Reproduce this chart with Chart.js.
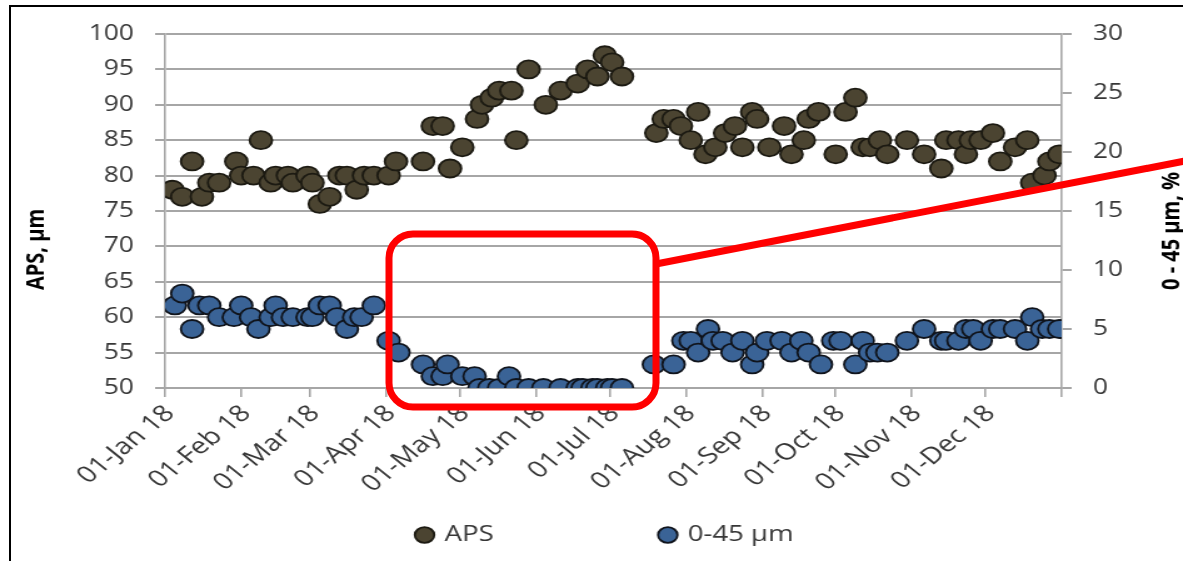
<!DOCTYPE html>
<html><head><meta charset="utf-8">
<script src="https://cdn.jsdelivr.net/npm/chart.js@4.4.1/dist/chart.umd.min.js"></script>
<style>
html,body{margin:0;padding:0;background:#fff;overflow:hidden;width:1183px;height:561px;}
#frame{position:absolute;left:9px;top:5px;width:1200px;height:600px;border-left:2px solid #000;border-top:2px solid #000;}
#wrap{position:absolute;left:0;top:0;width:946px;height:561px;transform:scaleX(1.2505);transform-origin:0 0;}
#ann{position:absolute;left:0;top:0;pointer-events:none;}
</style></head>
<body>
<div id="frame"></div>
<div id="wrap"><canvas id="c"></canvas></div>
<svg id="ann" width="1183" height="561">
  <rect x="389" y="234" width="267" height="173" rx="24" ry="24" fill="none" stroke="#ff0000" stroke-width="7"/>
  <line x1="656" y1="264" x2="1190" y2="160" stroke="#ff0000" stroke-width="7"/>
</svg>
<script>
// ---- data ----
const apsDates = ['2018-01-04','2018-01-08','2018-01-12','2018-01-16','2018-01-19','2018-01-23','2018-01-30',
 '2018-02-01','2018-02-06','2018-02-09','2018-02-13','2018-02-15','2018-02-20','2018-02-22','2018-02-28',
 '2018-03-02','2018-03-05','2018-03-09','2018-03-13','2018-03-16','2018-03-20','2018-03-23','2018-03-27',
 '2018-04-02','2018-04-05','2018-04-16','2018-04-20','2018-04-24','2018-04-27',
 '2018-05-02','2018-05-08','2018-05-10','2018-05-14','2018-05-17','2018-05-22','2018-05-24','2018-05-29',
 '2018-06-05','2018-06-11','2018-06-18','2018-06-22','2018-06-26','2018-06-29',
 '2018-07-02','2018-07-06','2018-07-20','2018-07-23','2018-07-27','2018-07-30',
 '2018-08-03','2018-08-06','2018-08-09','2018-08-13','2018-08-17','2018-08-21','2018-08-24','2018-08-28','2018-08-30',
 '2018-09-04','2018-09-10','2018-09-13','2018-09-18','2018-09-20','2018-09-24',
 '2018-10-01','2018-10-05','2018-10-09','2018-10-12','2018-10-15','2018-10-19','2018-10-22','2018-10-30',
 '2018-11-06','2018-11-13','2018-11-15','2018-11-20','2018-11-23','2018-11-25','2018-11-29',
 '2018-12-04','2018-12-07','2018-12-13','2018-12-18','2018-12-20','2018-12-25','2018-12-27','2018-12-31'];
const apsValues = [78,77,82,77,79,79,82,
 80,80,85,79,80,80,79,80,
 79,76,77,80,80,78,80,80,
 80,82,82,87,87,81,
 84,88,90,91,92,92,85,95,
 90,92,93,95,94,97,
 96,94,86,88,88,87,
 85,89,83,84,86,87,84,89,88,
 84,87,83,85,88,89,
 83,89,91,84,84,85,83,85,
 83,81,85,85,83,85,85,
 86,82,84,85,79,80,82,83];

const fineDates = ['2018-01-05','2018-01-08','2018-01-12','2018-01-15','2018-01-19','2018-01-23','2018-01-29',
 '2018-02-01','2018-02-05','2018-02-08','2018-02-13','2018-02-15','2018-02-18','2018-02-22','2018-02-28',
 '2018-03-02','2018-03-05','2018-03-09','2018-03-12','2018-03-16','2018-03-19','2018-03-22','2018-03-27',
 '2018-04-02','2018-04-06','2018-04-16','2018-04-20','2018-04-24','2018-04-26',
 '2018-05-02','2018-05-07','2018-05-09','2018-05-13','2018-05-17','2018-05-21','2018-05-24','2018-05-29',
 '2018-06-04','2018-06-11','2018-06-18','2018-06-20','2018-06-24','2018-06-26','2018-06-30',
 '2018-07-02','2018-07-06','2018-07-19','2018-07-27','2018-07-31',
 '2018-08-03','2018-08-06','2018-08-10','2018-08-12','2018-08-16','2018-08-20','2018-08-24','2018-08-28','2018-08-30',
 '2018-09-03','2018-09-09','2018-09-13','2018-09-17','2018-09-20','2018-09-25','2018-09-30',
 '2018-10-03','2018-10-09','2018-10-12','2018-10-15','2018-10-18','2018-10-22','2018-10-30',
 '2018-11-06','2018-11-13','2018-11-15','2018-11-20','2018-11-23','2018-11-26','2018-11-29',
 '2018-12-04','2018-12-07','2018-12-13','2018-12-18','2018-12-20','2018-12-24','2018-12-27','2018-12-31'];
const fineValues = [7,8,5,7,7,6,6,
 7,6,5,6,7,6,6,6,
 6,7,7,6,5,6,6,7,
 4,3,2,1,1,2,
 1,1,0,0,0,1,0,0,
 0,0,0,0,0,0,0,
 0,0,2,2,4,
 4,3,5,4,4,3,4,2,3,
 4,4,3,4,3,2,4,
 4,2,4,3,3,3,4,
 5,4,4,4,5,5,4,
 5,5,5,4,6,5,5,5];

const tickDates = ['2018-01-01','2018-02-01','2018-03-01','2018-04-01','2018-05-01','2018-06-01','2018-07-01',
 '2018-08-01','2018-09-01','2018-10-01','2018-11-01','2018-12-01','2019-01-01'];
const tickLabels = ['01-Jan 18','01-Feb 18','01-Mar 18','01-Apr 18','01-May 18','01-Jun 18','01-Jul 18',
 '01-Aug 18','01-Sep 18','01-Oct 18','01-Nov 18','01-Dec 18',''];
const seriesNames = ['APS','0-45 µm'];
const axisTitleLeft = 'APS, µm';
const axisTitleRight = '0 - 45 µm, %';

// ---- helpers ----
const day0 = Date.UTC(2018,0,1);
const toDay = s => (Date.parse(s + 'T00:00:00Z') - day0) / 86400000;
const tickDays = tickDates.map(toDay);

const FONT = '"Open Sans", "DejaVu Sans", sans-serif';
const GRID = '#a6a6a6';
const TXT = '#363636';
const LEGEND_GAP = '\u00a0'.repeat(20);

const axisTitles = {
  id: 'axisTitles',
  afterDraw(chart) {
    const {ctx, chartArea, scales} = chart;
    ctx.save();
    ctx.font = 'bold 20px ' + FONT;
    ctx.fillStyle = '#000';
    ctx.textBaseline = 'middle';
    ctx.textAlign = 'left';
    const yStart = chartArea.bottom - 98;
    [[axisTitleLeft, scales.y.left + 6], [axisTitleRight, scales.y1.right - 9]].forEach(([t, x]) => {
      ctx.save();
      ctx.translate(x, yStart);
      ctx.rotate(-Math.PI / 2);
      ctx.fillText(t, 0, 0);
      ctx.restore();
    });
    ctx.restore();
  }
};

new Chart(document.getElementById('c'), {
  type: 'scatter',
  data: {
    datasets: [
      {
        label: seriesNames[0],
        data: apsDates.map((d, i) => ({x: toDay(d), y: apsValues[i]})),
        yAxisID: 'y',
        backgroundColor: '#4b4431',
        borderColor: '#1c1a12',
        borderWidth: 1.8,
        pointRadius: 9,
        pointStyle: 'circle'
      },
      {
        label: seriesNames[1],
        data: fineDates.map((d, i) => ({x: toDay(d), y: fineValues[i]})),
        yAxisID: 'y1',
        backgroundColor: '#3a6396',
        borderColor: '#10141c',
        borderWidth: 1.8,
        pointRadius: 9,
        pointStyle: 'circle'
      }
    ]
  },
  options: {
    responsive: true,
    maintainAspectRatio: false,
    animation: false,
    layout: {padding: {left: 23, right: 0, top: 34, bottom: 5}},
    plugins: {
      tooltip: {enabled: false},
      legend: {
        position: 'bottom',
        labels: {
          usePointStyle: true,
          boxWidth: 10,
          boxHeight: 11,
          padding: 20,
          color: TXT,
          font: {family: FONT, size: 22},
          generateLabels: (chart) => Chart.defaults.plugins.legend.labels.generateLabels(chart)
            .map((item, i) => ({...item, text: i === 0 ? item.text + LEGEND_GAP : item.text}))
        }
      }
    },
    scales: {
      x: {
        type: 'linear',
        min: 0,
        max: 365,
        afterBuildTicks: (axis) => { axis.ticks = tickDays.map(v => ({value: v})); },
        afterFit: (s) => { s.height = 116; },
        ticks: {
          autoSkip: false,
          minRotation: 45,
          maxRotation: 45,
          padding: 3,
          labelOffset: 4,
          color: TXT,
          font: {family: FONT, size: 23},
          callback: (v, i) => tickLabels[i]
        },
        grid: {drawOnChartArea: false, drawTicks: true, tickLength: 9, color: GRID, lineWidth: 1.6},
        border: {display: true, color: GRID, width: 2}
      },
      y: {
        position: 'left',
        min: 50,
        max: 100,
        afterFit: (s) => { s.width = 109; },
        ticks: {stepSize: 5, padding: 17, color: TXT, font: {family: FONT, size: 21}},
        grid: {color: GRID, lineWidth: 2, tickLength: 8},
        border: {display: true, color: GRID, width: 1.6}
      },
      y1: {
        position: 'right',
        min: 0,
        max: 30,
        afterFit: (s) => { s.width = 97; },
        ticks: {stepSize: 5, padding: 17, color: TXT, font: {family: FONT, size: 21}},
        grid: {drawOnChartArea: false, color: GRID, lineWidth: 2, tickLength: 8},
        border: {display: true, color: GRID, width: 1.6}
      }
    }
  },
  plugins: [axisTitles]
});
</script>
</body></html>
